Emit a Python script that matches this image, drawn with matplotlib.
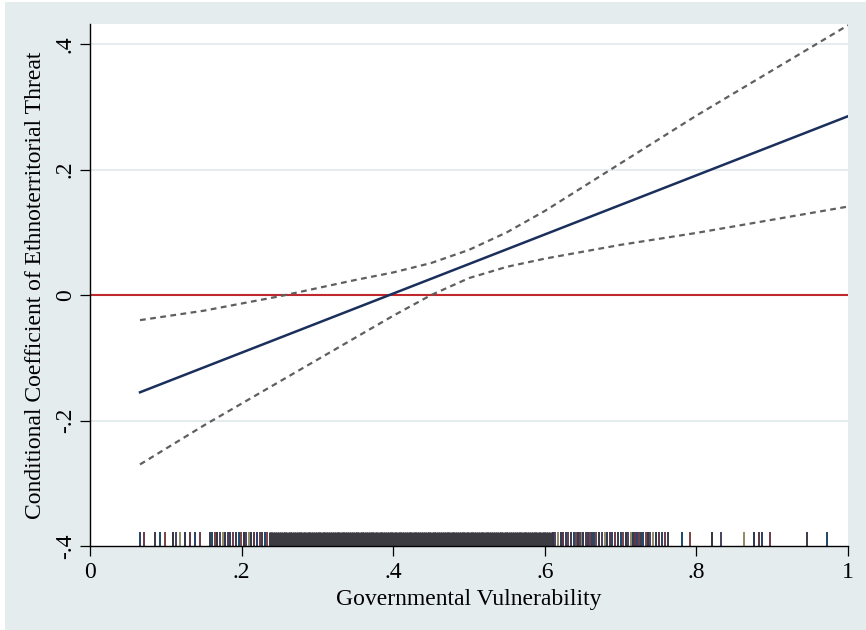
import matplotlib
matplotlib.use("Agg")
import matplotlib.pyplot as plt
from matplotlib.patches import Rectangle

# marginal effect of ethnoterritorial threat
line_x = [0.066, 1.0]
line_y = [-0.155, 0.285]

ci_x = [0.066, 0.15, 0.25, 0.35, 0.40, 0.45, 0.50, 0.55, 0.60, 0.70, 0.80, 0.90, 1.00]
ci_upper = [-0.040, -0.025, -0.002, 0.024, 0.036, 0.051, 0.072, 0.100, 0.134, 0.210, 0.286, 0.358, 0.430]
ci_lower = [-0.270, -0.208, -0.138, -0.068, -0.033, 0.000, 0.027, 0.045, 0.058, 0.080, 0.099, 0.120, 0.141]

# observed values of governmental vulnerability (rug)
rug_sparse_low = [0.066, 0.071, 0.086, 0.092, 0.099, 0.109, 0.113, 0.119, 0.125, 0.132, 0.139, 0.145]
rug_mid_low = [0.158, 0.161, 0.165, 0.168, 0.172, 0.175, 0.178, 0.182, 0.185, 0.189, 0.192, 0.196,
               0.199, 0.203, 0.206, 0.210, 0.213, 0.217, 0.220, 0.224, 0.227, 0.231, 0.234]
rug_dense = [0.237, 0.239, 0.242, 0.244, 0.247, 0.249, 0.252, 0.254, 0.257, 0.259, 0.262, 0.264,
             0.267, 0.269, 0.272, 0.274, 0.277, 0.279, 0.282, 0.284, 0.287, 0.289, 0.292, 0.294,
             0.297, 0.299, 0.302, 0.304, 0.307, 0.309, 0.312, 0.314, 0.317, 0.319, 0.322, 0.324,
             0.327, 0.329, 0.332, 0.334, 0.337, 0.339, 0.342, 0.344, 0.347, 0.349, 0.352, 0.354,
             0.357, 0.359, 0.362, 0.364, 0.367, 0.369, 0.372, 0.374, 0.377, 0.379, 0.382, 0.384,
             0.387, 0.389, 0.392, 0.394, 0.397, 0.399, 0.402, 0.404, 0.407, 0.409, 0.412, 0.414,
             0.417, 0.419, 0.422, 0.424, 0.427, 0.429, 0.432, 0.434, 0.437, 0.439, 0.442, 0.444,
             0.447, 0.449, 0.452, 0.454, 0.457, 0.459, 0.462, 0.464, 0.467, 0.469, 0.472, 0.474,
             0.477, 0.479, 0.482, 0.484, 0.487, 0.489, 0.492, 0.494, 0.497, 0.499, 0.502, 0.504,
             0.507, 0.509, 0.512, 0.514, 0.517, 0.519, 0.522, 0.524, 0.527, 0.529, 0.532, 0.534,
             0.537, 0.539, 0.542, 0.544, 0.547, 0.549, 0.552, 0.554, 0.557, 0.559, 0.562, 0.564,
             0.567, 0.569, 0.572, 0.574, 0.577, 0.579, 0.582, 0.584, 0.587, 0.589, 0.592, 0.594,
             0.597, 0.599, 0.602, 0.604, 0.607]
rug_mid_high = [0.611, 0.614, 0.618, 0.621, 0.624, 0.628, 0.631, 0.634, 0.638, 0.641, 0.644, 0.646,
                0.649, 0.651, 0.654, 0.657, 0.659, 0.662, 0.665, 0.668, 0.672, 0.675, 0.679, 0.682,
                0.686, 0.689, 0.693, 0.696, 0.700, 0.703, 0.707, 0.710, 0.714, 0.717, 0.719, 0.722,
                0.724, 0.727, 0.730, 0.733, 0.736, 0.739, 0.743, 0.747, 0.751, 0.755, 0.759, 0.763]
rug_sparse_high = [0.781, 0.792, 0.820, 0.832, 0.863, 0.876, 0.882, 0.887, 0.897, 0.946, 0.972]
rug_spread = rug_sparse_low + rug_mid_low + rug_mid_high + rug_sparse_high

x_ticks = [0, 0.2, 0.4, 0.6, 0.8, 1]
x_labels = ["0", ".2", ".4", ".6", ".8", "1"]
y_ticks = [-0.4, -0.2, 0, 0.2, 0.4]
y_labels = ["-.4", "-.2", "0", ".2", ".4"]

bg = "#e4ecee"
grid_col = "#e2ebed"
rug_palette = ["#2a3f66", "#6a3a48", "#3a3a4a", "#1a476f", "#7a4245",
               "#333340", "#4a4060", "#8f8a62", "#2e3550", "#5a3540"]

plt.rcParams["font.family"] = ["Liberation Serif", "DejaVu Serif"]

fig = plt.figure(figsize=(8.66, 6.30), dpi=100)
fig.patch.set_facecolor("white")
# stata graph region (thin white edge at left/top)
fig.patches.append(Rectangle((5 / 866, 0), 1, 628 / 630, transform=fig.transFigure,
                             facecolor=bg, edgecolor="none", zorder=-10))

ax = fig.add_axes([90 / 866, 84 / 630, 758 / 866, 522 / 630])
ax.set_zorder(1)
ax.set_facecolor("white")
ax.set_xlim(0, 1)
ax.set_ylim(-0.4, 0.432)

for yv in [-0.2, 0.2, 0.4]:
    ax.axhline(yv, color=grid_col, lw=1.3, zorder=1)

ax.axhline(0, color="#c0282d", lw=1.5, zorder=2)

ax.plot(ci_x, ci_upper, color="#5f5f5f", lw=1.6, dashes=(2.6, 2.0), zorder=3)
ax.plot(ci_x, ci_lower, color="#5f5f5f", lw=1.6, dashes=(2.6, 2.0), zorder=3)
ax.plot(line_x, line_y, color="#1a2f5c", lw=1.8, zorder=4)

# rug: spread-out observations, then the solid block in the middle
spread_colors = [rug_palette[i % len(rug_palette)] for i in range(len(rug_spread))]
ax.vlines(rug_spread, -0.4, -0.378, colors=spread_colors, lw=1.4, zorder=5)
ax.vlines(rug_dense, -0.4, -0.378, colors="#3c3b42", lw=2.2, zorder=5)

for s in ["top", "right"]:
    ax.spines[s].set_visible(False)
for s in ["left", "bottom"]:
    ax.spines[s].set_linewidth(1.0)
    ax.spines[s].set_color("black")
    ax.spines[s].set_zorder(6)

ax.set_xticks(x_ticks)
ax.set_xticklabels(x_labels)
ax.set_yticks(y_ticks)
ax.set_yticklabels(y_labels, rotation=90, va="center")
ax.tick_params(axis="both", direction="out", length=7.2, width=0.9, labelsize=17, color="black")
ax.tick_params(axis="x", pad=4)
ax.tick_params(axis="y", pad=3)

ax.set_xlabel("Governmental Vulnerability", fontsize=17, labelpad=5)
ax.set_ylabel("Conditional Coefficient of Ethnoterritorial Threat", fontsize=17, labelpad=6)

fig.savefig("out.png", dpi=100, facecolor=fig.get_facecolor())
